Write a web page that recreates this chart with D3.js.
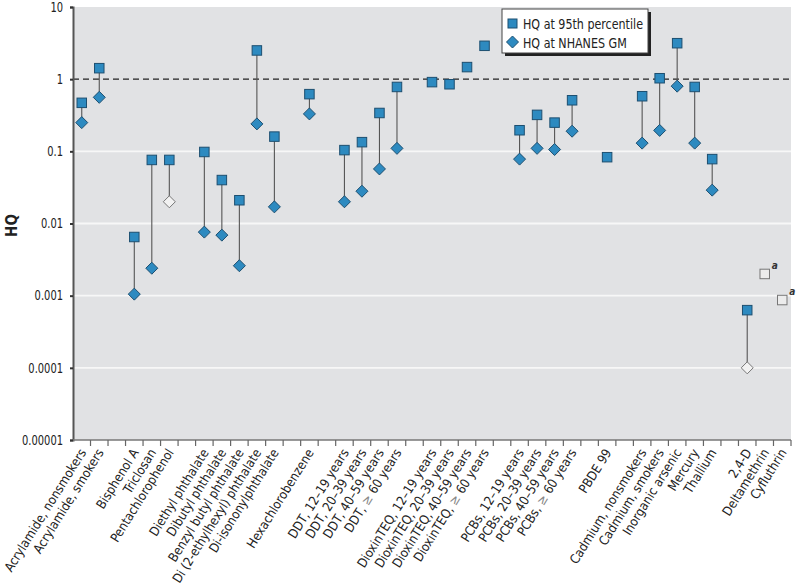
<!DOCTYPE html>
<html>
<head>
<meta charset="utf-8">
<script src="https://cdn.jsdelivr.net/npm/d3@7"></script>
<style>
  html, body { margin: 0; padding: 0; background: #fff; }
  svg { display: block; }
  text { font-family: "Liberation Sans Narrow", "Arial Narrow", "DejaVu Sans Condensed", sans-serif; }
</style>
</head>
<body>
<svg id="chart" width="800" height="587"></svg>
<script>
// ---- data ----
const categories = [
  "Acrylamide, nonsmokers", "Acrylamide, smokers", "", "Bisphenol A", "Triclosan", "Pentachlorophenol", "",
  "Diethyl phthalate", "Dibutyl phthalate", "Benzyl butyl phthalate", "Di (2-ethylhexyl) phthalate", "Di-isononylphthalate", "",
  "Hexachlorobenzene", "",
  "DDT, 12–19 years", "DDT, 20–39 years", "DDT, 40–59 years", "DDT, ≥ 60 years", "",
  "DioxinTEQ, 12–19 years", "DioxinTEQ, 20–39 years", "DioxinTEQ, 40–59 years", "DioxinTEQ, ≥ 60 years", "",
  "PCBs, 12–19 years", "PCBs, 20–39 years", "PCBs, 40–59 years", "PCBs, ≥ 60 years", "",
  "PBDE 99", "",
  "Cadmium, nonsmokers", "Cadmium, smokers", "Inorganic arsenic", "Mercury", "Thallium", "",
  "2,4-D", "Deltamethrin", "Cyfluthrin"
];
// HQ at 95th percentile
const hq95 = [
  0.47, 1.42, null, 0.0065, 0.076, 0.076, null,
  0.098, 0.040, 0.021, 2.5, 0.16, null,
  0.62, null,
  0.104, 0.134, 0.34, 0.78, null,
  0.91, 0.85, 1.47, 2.9, null,
  0.196, 0.32, 0.25, 0.51, null,
  0.083, null,
  0.58, 1.03, 3.15, 0.78, 0.078, null,
  0.00063, 0.002, 0.00087
];
// HQ at NHANES GM
const hqGM = [
  0.25, 0.56, null, 0.00105, 0.0024, 0.020, null,
  0.0076, 0.0069, 0.0026, 0.24, 0.017, null,
  0.33, null,
  0.020, 0.028, 0.057, 0.11, null,
  null, null, null, null, null,
  0.078, 0.11, 0.106, 0.19, null,
  null, null,
  0.13, 0.195, 0.80, 0.13, 0.029, null,
  0.0001, null, null
];
// open (unfilled) markers
const open95 = [false,false,false,false,false,false,false,false,false,false,false,false,false,false,false,false,false,false,false,false,false,false,false,false,false,false,false,false,false,false,false,false,false,false,false,false,false,false,false,true,true];
const openGM = [false,false,false,false,false,true,false,false,false,false,false,false,false,false,false,false,false,false,false,false,false,false,false,false,false,false,false,false,false,false,false,false,false,false,false,false,false,false,true,false,false];
const notes95 = {39: "a", 40: "a"};
const yTicks = [10, 1, 0.1, 0.01, 0.001, 0.0001, 0.00001];
const yTickLabels = ["10", "1", "0.1", "0.01", "0.001", "0.0001", "0.00001"];
const gridValues = [0.1, 0.01, 0.001, 0.0001];
const refValue = 1;
const legendItems = ["HQ at 95th percentile", "HQ at NHANES GM"];

// ---- layout ----
const svg = d3.select("#chart");
const L = 73, R = 791, T = 7, B = 440;
const fill = "#2d8ac0", stroke = "#1d4f70";

// condense text: measure a reference string, then squeeze every text by same factor
function condense(sel, refText, refWidth, fontSize) {
  const probe = svg.append("text").attr("font-size", fontSize).text(refText);
  const f = refWidth / probe.node().getComputedTextLength();
  probe.remove();
  sel.each(function () {
    const w = this.getComputedTextLength();
    d3.select(this).attr("textLength", w * f).attr("lengthAdjust", "spacingAndGlyphs");
  });
}

const x = d3.scaleBand().domain(d3.range(categories.length)).range([L, R]).padding(0);
const y = d3.scaleLog().domain([1e-5, 10]).range([B, T]);

svg.append("rect").attr("x", L).attr("y", T).attr("width", R - L).attr("height", B - T).attr("fill", "#e1e2e4");

svg.selectAll("line.grid").data(gridValues).join("line")
  .attr("x1", L).attr("x2", R).attr("y1", d => y(d)).attr("y2", d => y(d))
  .attr("stroke", "#f7f7f7").attr("stroke-width", 1.8);

svg.append("line").attr("x1", L).attr("x2", R).attr("y1", y(refValue)).attr("y2", y(refValue))
  .attr("stroke", "#222").attr("stroke-width", 1.3).attr("stroke-dasharray", "6,4");

// y axis
const yAxis = d3.axisLeft(y).tickValues(yTicks).tickFormat((d, i) => yTickLabels[i]).tickSize(3).tickPadding(7);
const gy = svg.append("g").attr("transform", `translate(${L},0)`).call(yAxis);
gy.select(".domain").attr("stroke", "#555").attr("stroke-width", 2);
gy.selectAll(".tick line").attr("stroke", "#333").attr("stroke-width", 2);
gy.selectAll(".tick text").attr("font-size", 13.5).attr("fill", "#222")
  .style("font-family", '"Liberation Sans Narrow", "Arial Narrow", "DejaVu Sans Condensed", sans-serif');
condense(gy.selectAll(".tick text"), "0.00001", 41, 13.5);

const hq = svg.append("text").attr("transform", `translate(17,${(T + B) / 2 + 2}) rotate(-90)`)
  .attr("text-anchor", "middle").attr("font-size", 15).attr("font-weight", "bold").attr("fill", "#222").text("HQ");

// x axis
const gx = svg.append("g").attr("transform", `translate(0,${B})`);
gx.append("line").attr("x1", L).attr("x2", R).attr("stroke", "#777").attr("stroke-width", 1.5);
const bounds = d3.range(categories.length + 1).map(i => L + i * x.step());
gx.selectAll("line.tk").data(bounds.slice(1)).join("line")
  .attr("x1", d => d).attr("x2", d => d).attr("y1", 0).attr("y2", 6)
  .attr("stroke", "#666").attr("stroke-width", 1.2);
const xl = gx.selectAll("text.lab").data(categories.map((c, i) => ({c, i})).filter(d => d.c)).join("text")
  .attr("transform", d => `translate(${x(d.i) + x.bandwidth() / 2 + 1},${10}) rotate(-58)`)
  .attr("text-anchor", "end").attr("dy", "0.35em").attr("font-size", 13).attr("fill", "#222");
xl.each(function (d) {
  const t = d3.select(this);
  const parts = d.c.split("≥");
  parts.forEach((p, k) => {
    if (k > 0) t.append("tspan").attr("fill", "#888").text("≥");
    t.append("tspan").text(p);
  });
});
condense(xl, "Acrylamide, nonsmokers", 142, 13);

// connectors
const pairs = categories.map((c, i) => ({i, a: hq95[i], b: hqGM[i]})).filter(d => d.a != null && d.b != null);
svg.selectAll("line.conn").data(pairs).join("line")
  .attr("x1", d => x(d.i) + x.bandwidth() / 2).attr("x2", d => x(d.i) + x.bandwidth() / 2)
  .attr("y1", d => y(d.a)).attr("y2", d => y(d.b))
  .attr("stroke", "#555").attr("stroke-width", 1.1);

// diamonds
const gmPts = categories.map((c, i) => ({i, v: hqGM[i], open: openGM[i]})).filter(d => d.v != null);
const ds = 6;
svg.selectAll("path.dia").data(gmPts).join("path")
  .attr("d", d => {
    const cx = x(d.i) + x.bandwidth() / 2, cy = y(d.v);
    return `M${cx},${cy - ds}L${cx + ds},${cy}L${cx},${cy + ds}L${cx - ds},${cy}Z`;
  })
  .attr("fill", d => d.open ? "#f2f2f2" : fill)
  .attr("stroke", d => d.open ? "#777" : stroke).attr("stroke-width", 1);

// squares
const p95Pts = categories.map((c, i) => ({i, v: hq95[i], open: open95[i], note: notes95[i]})).filter(d => d.v != null);
const sq = 9.5;
svg.selectAll("rect.sq").data(p95Pts).join("rect")
  .attr("x", d => x(d.i) + x.bandwidth() / 2 - sq / 2).attr("y", d => y(d.v) - sq / 2)
  .attr("width", sq).attr("height", sq)
  .attr("fill", d => d.open ? "#ececec" : fill)
  .attr("stroke", d => d.open ? "#777" : stroke).attr("stroke-width", 1);
svg.selectAll("text.note").data(p95Pts.filter(d => d.note)).join("text")
  .attr("x", d => x(d.i) + x.bandwidth() / 2 + 7).attr("y", d => y(d.v) - 5)
  .attr("font-size", 10).attr("font-style", "italic").attr("font-weight", "bold").attr("fill", "#333")
  .text(d => d.note);

// legend
const lg = svg.append("g").attr("transform", "translate(502,9)");
lg.append("rect").attr("x", 3).attr("y", 3).attr("width", 146).attr("height", 44).attr("fill", "#222");
lg.append("rect").attr("x", 0).attr("y", 0).attr("width", 146).attr("height", 44).attr("fill", "#fff").attr("stroke", "#444").attr("stroke-width", 1);
lg.append("rect").attr("x", 6).attr("y", 10).attr("width", 9).attr("height", 9).attr("fill", fill).attr("stroke", stroke);
lg.append("path").attr("d", `M10.5,27L16.5,33L10.5,39L4.5,33Z`).attr("fill", fill).attr("stroke", stroke);
const lt = lg.selectAll("text.lt").data(legendItems).join("text")
  .attr("x", 21).attr("y", (d, i) => 15 + i * 19).attr("dy", "0.35em")
  .attr("font-size", 14).attr("fill", "#222").text(d => d);
condense(lt, "HQ at 95th percentile", 120, 14);
</script>
</body>
</html>
